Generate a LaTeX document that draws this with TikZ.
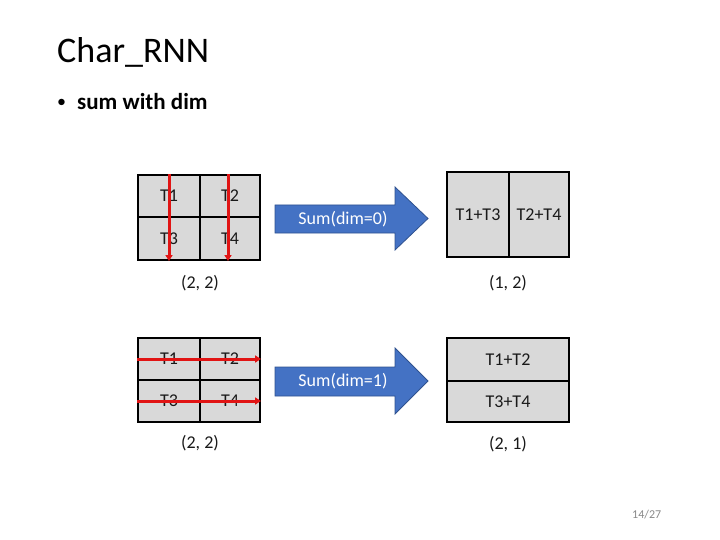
\documentclass[tikz,border=0pt]{standalone}
\usepackage{fontspec}
\setmainfont{Carlito}
\usetikzlibrary{arrows.meta}
\definecolor{cellgray}{RGB}{217,217,217}
\definecolor{arrowblue}{RGB}{68,114,196}
\definecolor{arrowedge}{RGB}{47,82,143}
\definecolor{redline}{RGB}{225,20,20}
\definecolor{pagegray}{RGB}{137,137,137}
\begin{document}
\begin{tikzpicture}[x=1pt,y=-1pt,
  cellbox/.style={draw=black,line width=2pt,fill=cellgray,inner sep=0pt,
    font=\fontsize{18}{20}\selectfont,text=black!90},
  redarrow/.style={draw=redline,line width=3pt,
    -{Triangle[length=6pt,width=7pt]}},
  bluearrow/.style={fill=arrowblue,draw=arrowedge,line width=0.8pt},
  arrowlabel/.style={text=white,font=\fontsize{18}{20}\selectfont,inner sep=0pt},
  shapelabel/.style={font=\fontsize{18}{20}\selectfont,text=black!90,inner sep=0pt}]
\useasboundingbox (0,0) rectangle (720,540);

% title and bullet
\node[anchor=base west,inner sep=0pt,font=\fontsize{36}{40}\selectfont] (title) at (57,63) {Char\_RNN};
\node[anchor=base west,inner sep=0pt,font=\fontsize{18}{20}\selectfont] (bul) at (57,108) {•};
\node[anchor=base west,inner sep=0pt,font=\fontsize{23}{26}\selectfont\bfseries] (bultext) at (77,110) {sum with dim};

% ---- top: dim=0 ----
\node[cellbox,minimum width=62pt,minimum height=42pt] (a1) at (169,196) {T1};
\node[cellbox,minimum width=60pt,minimum height=42pt] (a2) at (230,196) {T2};
\node[cellbox,minimum width=62pt,minimum height=43pt] (a3) at (169,238.5) {T3};
\node[cellbox,minimum width=60pt,minimum height=43pt] (a4) at (230,238.5) {T4};
\draw[redarrow] (a1.north) -- (a3.south);
\draw[redarrow] ([xshift=-2pt]a2.north) -- ([xshift=-2pt]a4.south);
\node[shapelabel] (lab1) at (200,283) {(2, 2)};

\path[bluearrow] (275,205) -- (395,205) -- (395,187) -- (428,218.5) -- (395,250) -- (395,233) -- (275,233) -- cycle;
\node[arrowlabel] (s0) at (343,219) {Sum(dim=0)};

\node[cellbox,minimum width=62pt,minimum height=85pt] (r1) at (478,214.5) {T1+T3};
\node[cellbox,minimum width=60pt,minimum height=85pt] (r2) at (539,214.5) {T2+T4};
\node[shapelabel] (lab2) at (508,283) {(1, 2)};

% ---- bottom: dim=1 ----
\node[cellbox,minimum width=62pt,minimum height=42pt] (b1) at (169,359) {T1};
\node[cellbox,minimum width=60pt,minimum height=42pt] (b2) at (230,359) {T2};
\node[cellbox,minimum width=62pt,minimum height=42pt] (b3) at (169,401) {T3};
\node[cellbox,minimum width=60pt,minimum height=42pt] (b4) at (230,401) {T4};
\draw[redarrow] (b1.west) -- (b2.east);
\draw[redarrow] (b3.west) -- (b4.east);
\node[shapelabel] (lab3) at (200,443) {(2, 2)};

\path[bluearrow] (275,367) -- (395,367) -- (395,348) -- (428,381) -- (395,414) -- (395,396) -- (275,396) -- cycle;
\node[arrowlabel] (s1) at (343,381) {Sum(dim=1)};

\node[cellbox,minimum width=122pt,minimum height=43pt] (q1) at (508,359.5) {T1+T2};
\node[cellbox,minimum width=122pt,minimum height=41pt] (q2) at (508,401.5) {T3+T4};
\node[shapelabel] (lab4) at (508,444) {(2, 1)};

% page number
\node[anchor=base west,inner sep=0pt,text=pagegray,font=\fontsize{12}{13}\selectfont] (page) at (632,518) {14/27};
\end{tikzpicture}
\end{document}
